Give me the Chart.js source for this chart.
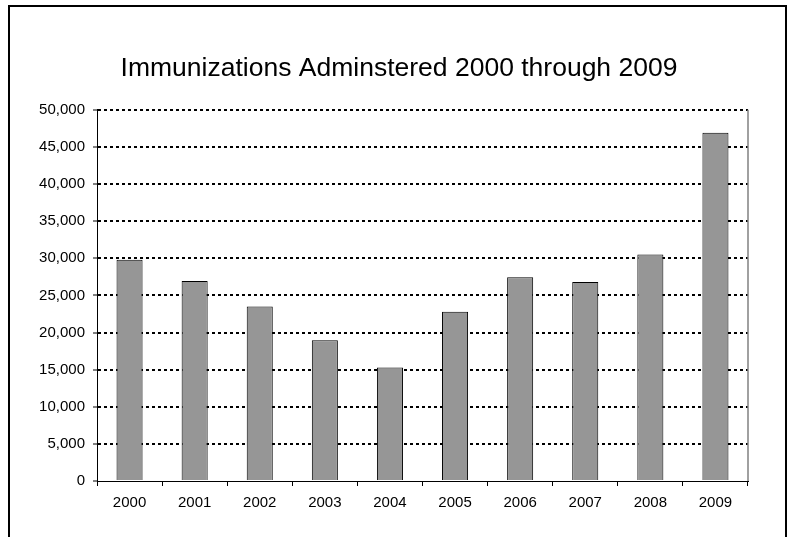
<!DOCTYPE html>
<html>
<head>
<meta charset="utf-8">
<script src="https://cdn.jsdelivr.net/npm/chart.js@4/dist/chart.umd.min.js"></script>
<style>
  body { margin: 0; background: #fff; }
  canvas { display: block; }
</style>
</head>
<body>
<canvas id="chart" width="788" height="537"></canvas>
<script>
const years = ["2000", "2001", "2002", "2003", "2004", "2005", "2006", "2007", "2008", "2009"];
const immunizations = [29800, 26950, 23500, 18950, 15300, 22800, 27450, 26800, 30500, 46900];
const yTicks = [0, 5000, 10000, 15000, 20000, 25000, 30000, 35000, 40000, 45000, 50000];

const FONT = '"Liberation Sans", Arial, sans-serif';
Chart.defaults.color = "#000";
Chart.defaults.font.family = FONT;

// frame around the whole chart + right edge of the plot area
const framePlugin = {
  id: "frame",
  beforeDraw(chart) {
    const ctx = chart.ctx;
    ctx.save();
    ctx.fillStyle = "#fff";
    ctx.fillRect(0, 0, chart.width, chart.height);
    ctx.strokeStyle = "#000";
    ctx.lineWidth = 2;
    ctx.strokeRect(9, 6, 777, 600);
    ctx.restore();
  },
  afterDatasetsDraw(chart) {
    const { ctx, chartArea } = chart;
    ctx.save();
    ctx.strokeStyle = "#808080";
    ctx.lineWidth = 1.5;
    ctx.beginPath();
    ctx.moveTo(chartArea.right, chartArea.top);
    ctx.lineTo(chartArea.right, chartArea.bottom);
    ctx.stroke();
    ctx.restore();
  },
};

new Chart(document.getElementById("chart"), {
  type: "bar",
  data: {
    labels: years,
    datasets: [
      {
        data: immunizations,
        backgroundColor: "#969696",
        borderColor: "#000",
        borderWidth: 1,
        barPercentage: 0.4,
        categoryPercentage: 1,
      },
    ],
  },
  options: {
    responsive: false,
    animation: false,
    layout: { padding: { left: 10, right: 0, top: 0, bottom: 0 } },
    plugins: {
      legend: { display: false },
      tooltip: { enabled: false },
      title: {
        display: true,
        text: "Immunizations Adminstered 2000 through 2009",
        color: "#000",
        font: { size: 26.5, weight: "normal", family: FONT },
        padding: { top: 53, bottom: 25 },
      },
    },
    scales: {
      x: {
        grid: {
          drawOnChartArea: false,
          offset: true,
          tickLength: 5,
          tickColor: "#000",
          tickWidth: 1,
        },
        border: { color: "#000", width: 1 },
        ticks: { font: { size: 15 }, padding: 8, color: "#000" },
        afterFit(scale) {
          scale.height = 56;
        },
      },
      y: {
        min: 0,
        max: 50000,
        afterBuildTicks(scale) {
          scale.ticks = yTicks.map((v) => ({ value: v }));
        },
        grid: {
          color: (ctx) => (ctx.tick && ctx.tick.value === 0 ? "rgba(0,0,0,0)" : "#000"),
          lineWidth: 2,
          tickLength: 4,
          tickColor: "#000",
          tickWidth: 1,
          tickBorderDash: [],
        },
        border: { color: "#000", width: 1, dash: [3, 3] },
        ticks: {
          font: { size: 15 },
          padding: 8,
          color: "#000",
          callback: (v) => v.toLocaleString("en-US"),
        },
        afterFit(scale) {
          scale.width = 87;
        },
      },
      // empty axis on the right, only reserves the margin
      yRight: {
        position: "right",
        grid: { display: false },
        ticks: { display: false },
        border: { display: false },
        afterFit(scale) {
          scale.width = 40;
        },
      },
    },
  },
  plugins: [framePlugin],
});
</script>
</body>
</html>
